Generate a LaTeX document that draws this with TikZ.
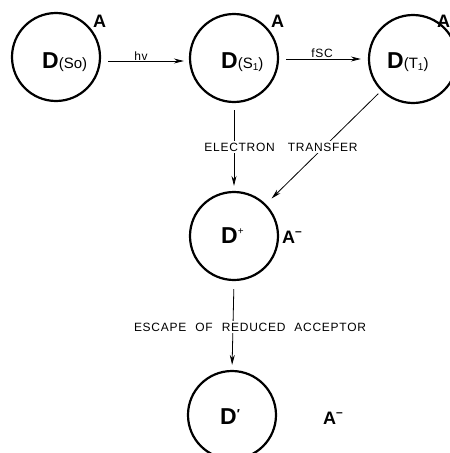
\documentclass[tikz,border=0pt]{standalone}
\usepackage{fontspec}
\setmainfont{Liberation Sans}
\newfontfamily\lbl[LetterSpace=6]{Liberation Sans}
\usetikzlibrary{arrows.meta}
\begin{document}
\begin{tikzpicture}[x=1pt,y=1pt,
  state/.style={circle,draw,line width=2.2pt,minimum size=88pt,inner sep=0pt},
  dtext/.style={anchor=base west,inner sep=0pt,font=\fontsize{23}{23}\selectfont},
  acc/.style={anchor=base west,inner sep=0pt,font=\fontsize{18}{18}\selectfont\bfseries},
  conn/.style={line width=0.8pt,-{Stealth[length=10pt,width=5pt]}},
  lab/.style={font=\fontsize{12}{12}\selectfont\lbl, fill=white, inner sep=1.5pt},
  small/.style={font=\fontsize{12}{12}\selectfont\lbl, inner sep=0pt, anchor=base}]
\clip (0,0) rectangle (450,-453);
\fill[white] (0,0) rectangle (450,-453);
% circles
\node[state] (c1) at (56,-57) {};
\node[state] (c2) at (234,-58) {};
\node[state] (c3) at (413,-59) {};
\node[state] (c4) at (234,-236) {};
\node[state] (c5) at (232,-415) {};
% contents
\node[dtext] (t1) at (42,-68) {\textbf{D}\fontsize{15}{15}\selectfont(So)};
\node[dtext] (t2) at (221,-68) {\textbf{D}\fontsize{15}{15}\selectfont(S\raisebox{-2pt}{\fontsize{10}{10}\selectfont 1})};
\node[dtext] (t3) at (387,-68) {\textbf{D}\fontsize{15}{15}\selectfont(T\raisebox{-2pt}{\fontsize{10}{10}\selectfont 1})};
\node[dtext] (t4) at (221,-243) {\textbf{D}\raisebox{9pt}{\fontsize{10}{10}\selectfont +}};
\node[dtext] (t5) at (220,-424) {\textbf{D}\raisebox{6pt}{\fontsize{13}{13}\selectfont\textbf{\char"2032}}};
% acceptors
\node[acc] (a1) at (93,-27) {A};
\node[acc] (a2) at (271,-27) {A};
\node[acc] (a3) at (437,-27) {A};
\node[acc] (a4) at (282,-243) {A\raisebox{8pt}{\fontsize{12}{12}\selectfont\bfseries\char"2013}};
\node[acc] (a5) at (323,-424) {A\raisebox{8pt}{\fontsize{12}{12}\selectfont\bfseries\char"2013}};
% connectors
\draw[conn] ([xshift=7pt,yshift=-4pt]c1.east) -- ([xshift=-5pt,yshift=-3pt]c2.west);
\draw[conn] ([xshift=7pt,yshift=-1pt]c2.east) -- ([xshift=-7pt]c3.west);
\draw[conn,shorten <=7pt,shorten >=5pt] (c2.south) -- (c4.north);
\draw[conn,shorten <=4pt,shorten >=8pt] (c3.225) -- (c4.45);
\draw[conn,shorten <=8pt,shorten >=5pt] (c4.south) -- (c5.north);
% labels
\node[small] (hv) at (141,-60) {hv};
\node[small] (isc) at (322,-57) {fSC};
\node[lab] (et) at (281,-147) {ELECTRON\hspace{9pt} TRANSFER};
\node[lab] (esc) at (250,-327) {ESCAPE\hspace{5pt} OF\hspace{5pt} REDUCED\hspace{5pt} ACCEPTOR};
\end{tikzpicture}
\end{document}
